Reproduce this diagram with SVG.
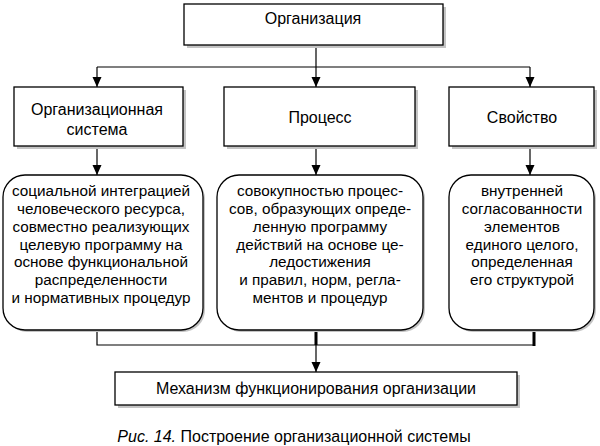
<svg xmlns="http://www.w3.org/2000/svg" width="600" height="446" viewBox="0 0 600 446">
<style>
text{font-family:"Liberation Sans",Arial,sans-serif;font-size:16px;fill:#000;text-anchor:middle}
.t{font-size:15.3px}
.box{fill:#fff;stroke:#000;stroke-width:1.3}
.sh{fill:#c4c4c4}
.ln{fill:none;stroke:#000;stroke-width:1.2}
.thick{fill:none;stroke:#000;stroke-width:3}
</style>
<defs>
<marker id="a" markerWidth="10" markerHeight="11" refX="10" refY="5" orient="auto" markerUnits="userSpaceOnUse" viewBox="0 0 10 10">
<path d="M0,0.5 L10,5 L0,9.5 Z" fill="#000"/>
</marker>
</defs>
<g id="connectors">
<path class="ln" d="M316,45 V67 M97,67 H530"/>
<path class="ln" d="M97,67 V87" marker-end="url(#a)"/>
<path class="ln" d="M316,67 V87" marker-end="url(#a)"/>
<path class="ln" d="M530,67 V87" marker-end="url(#a)"/>
<path class="ln" d="M97,146 V175" marker-end="url(#a)"/>
<path class="ln" d="M316,146 V175" marker-end="url(#a)"/>
<path class="ln" d="M530,146 V175" marker-end="url(#a)"/>
<path class="ln" d="M97,330 V345 H534"/>
<path class="thick" d="M316,331 V345 M534,331 V346"/>
<path class="ln" d="M316,345 V372" marker-end="url(#a)"/>
</g>
<g id="n-org">
<rect class="sh" x="187" y="7" width="259" height="41"/>
<rect class="box" x="184" y="4" width="259" height="41"/>
<text x="313" y="24">Организация</text>
</g>
<g id="n-orgsys">
<rect class="sh" x="17" y="90" width="169" height="59"/>
<rect class="box" x="14" y="87" width="169" height="59"/>
<text x="97" y="115">Организационная</text>
<text x="97" y="135">система</text>
</g>
<g id="n-process">
<rect class="sh" x="227" y="90" width="191" height="59"/>
<rect class="box" x="224" y="87" width="191" height="59"/>
<text x="320" y="123">Процесс</text>
</g>
<g id="n-prop">
<rect class="sh" x="452" y="90" width="145" height="59"/>
<rect class="box" x="449" y="87" width="145" height="59"/>
<text x="522" y="123">Свойство</text>
</g>
<g id="n-social">
<rect class="sh" x="5" y="177" width="200" height="155" rx="22"/>
<rect class="box" x="3" y="175" width="200" height="155" rx="22"/>
<text class="t" x="101" y="196">социальной интеграцией</text>
<text class="t" x="101" y="214">человеческого ресурса,</text>
<text class="t" x="101" y="232">совместно реализующих</text>
<text class="t" x="101" y="250">целевую программу на</text>
<text class="t" x="101" y="267">основе функциональной</text>
<text class="t" x="101" y="285">распределенности</text>
<text class="t" x="101" y="303">и нормативных процедур</text>
</g>
<g id="n-sum">
<rect class="sh" x="219" y="177" width="206" height="155" rx="22"/>
<rect class="box" x="217" y="175" width="206" height="155" rx="22"/>
<text class="t" x="320" y="196">совокупностью процес-</text>
<text class="t" x="320" y="214">сов, образующих опреде-</text>
<text class="t" x="320" y="232">ленную программу</text>
<text class="t" x="320" y="250">действий на основе це-</text>
<text class="t" x="320" y="267">ледостижения</text>
<text class="t" x="320" y="285">и правил, норм, регла-</text>
<text class="t" x="320" y="303">ментов и процедур</text>
</g>
<g id="n-inner">
<rect class="sh" x="451" y="177" width="145" height="155" rx="22"/>
<rect class="box" x="449" y="175" width="145" height="155" rx="22"/>
<text class="t" x="522" y="196">внутренней</text>
<text class="t" x="522" y="214">согласованности</text>
<text class="t" x="522" y="232">элементов</text>
<text class="t" x="522" y="250">единого целого,</text>
<text class="t" x="522" y="267">определенная</text>
<text class="t" x="522" y="285">его структурой</text>
</g>
<g id="n-mech">
<rect class="sh" x="118" y="375" width="402" height="33"/>
<rect class="box" x="115" y="372" width="402" height="33"/>
<text x="316" y="394">Механизм функционирования организации</text>
</g>
<text x="294" y="442"><tspan font-style="italic">Рис. 14.</tspan> Построение организационной системы</text>
</svg>
